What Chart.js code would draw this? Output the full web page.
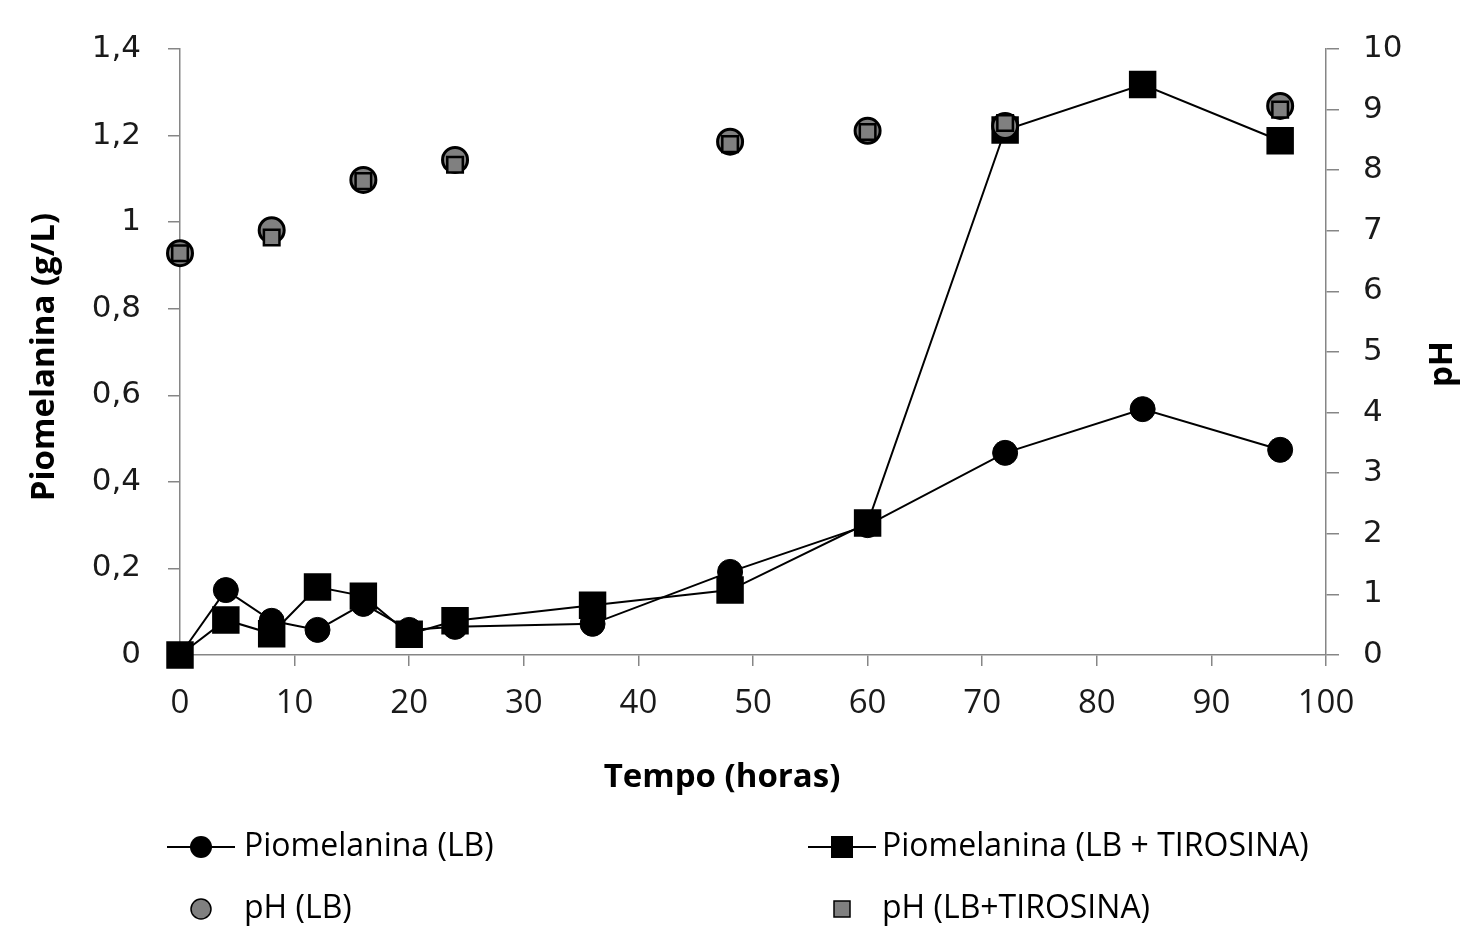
<!DOCTYPE html>
<html>
<head>
<title>Piomelanina e pH</title>
<script src="https://cdn.jsdelivr.net/npm/chart.js"></script>
<style>
  body { margin: 0; background: #fff; }
  #wrap { width: 1462px; height: 926px; }
</style>
</head>
<body>
<div id="wrap"><canvas id="chart"></canvas></div>
<script>
// Data
const tempoPio = [0, 4, 8, 12, 16, 20, 24, 36, 48, 60, 72, 84, 96];
const pioLB = [0, 0.150, 0.079, 0.058, 0.118, 0.058, 0.065, 0.072, 0.192, 0.300, 0.467, 0.568, 0.474];
const pioLBTir = [0, 0.081, 0.049, 0.157, 0.136, 0.048, 0.079, 0.115, 0.150, 0.305, 1.213, 1.318, 1.188];

const tempoPH = [0, 8, 16, 24, 48, 60, 72, 96];
const phLB = [6.63, 7.01, 7.84, 8.17, 8.47, 8.65, 8.73, 9.06];
const phLBTir = [6.63, 6.89, 7.82, 8.09, 8.43, 8.63, 8.78, 9.00];

const xTickLabels = ['0', '10', '20', '30', '40', '50', '60', '70', '80', '90', '100'];
const yTickLabels = ['0', '0,2', '0,4', '0,6', '0,8', '1', '1,2', '1,4'];
const y2TickLabels = ['0', '1', '2', '3', '4', '5', '6', '7', '8', '9', '10'];

const legendItems = ['Piomelanina (LB)', 'Piomelanina (LB + TIROSINA)', 'pH (LB)', 'pH (LB+TIROSINA)'];

const toXY = (xs, ys) => xs.map((x, i) => ({ x: x, y: ys[i] }));

const axisGrey = '#868686';
const phGrey = '#808080';

// titles and the two-column legend
const extras = {
  id: 'extras',
  afterDraw(chart) {
    const ctx = chart.ctx;
    ctx.save();
    ctx.fillStyle = '#000';
    ctx.textBaseline = 'middle';

    ctx.font = 'bold 33px "Open Sans"';
    ctx.textAlign = 'center';
    ctx.fillText('Tempo (horas)', 722, 778);

    ctx.save();
    ctx.translate(45, 357);
    ctx.rotate(-Math.PI / 2);
    ctx.fillText('Piomelanina (g/L)', 0, 0);
    ctx.restore();

    ctx.save();
    ctx.translate(1443, 364);
    ctx.rotate(-Math.PI / 2);
    ctx.fillText('pH', 0, 0);
    ctx.restore();

    // legend
    ctx.font = '32px "Open Sans"';
    ctx.textAlign = 'left';
    const rows = [847, 909];
    const cols = [[167, 201, 244], [808, 842, 882]];

    ctx.strokeStyle = '#000';
    ctx.lineWidth = 2;
    cols.forEach(c => {
      ctx.beginPath();
      ctx.moveTo(c[0], rows[0]);
      ctx.lineTo(c[0] + 68, rows[0]);
      ctx.stroke();
    });
    ctx.fillStyle = '#000';
    ctx.beginPath();
    ctx.arc(cols[0][1], rows[0], 11, 0, Math.PI * 2);
    ctx.fill();
    ctx.fillRect(cols[1][1] - 11, rows[0] - 11, 22, 22);

    ctx.fillStyle = phGrey;
    ctx.lineWidth = 1.5;
    ctx.beginPath();
    ctx.arc(cols[0][1], rows[1], 10, 0, Math.PI * 2);
    ctx.fill();
    ctx.stroke();
    ctx.fillRect(cols[1][1] - 8, rows[1] - 8, 16, 16);
    ctx.strokeRect(cols[1][1] - 8, rows[1] - 8, 16, 16);

    ctx.fillStyle = '#000';
    ctx.fillText(legendItems[0], cols[0][2], rows[0]);
    ctx.fillText(legendItems[1], cols[1][2], rows[0]);
    ctx.fillText(legendItems[2], cols[0][2], rows[1]);
    ctx.fillText(legendItems[3], cols[1][2], rows[1]);
    ctx.restore();
  }
};

new Chart(document.getElementById('chart'), {
  type: 'scatter',
  data: {
    datasets: [
      {
        label: legendItems[3],
        data: toXY(tempoPH, phLBTir),
        yAxisID: 'y2',
        showLine: false,
        pointStyle: 'rect',
        pointRadius: 11,
        pointBackgroundColor: phGrey,
        pointBorderColor: '#000',
        pointBorderWidth: 2.5,
        order: 0
      },
      {
        label: legendItems[2],
        data: toXY(tempoPH, phLB),
        yAxisID: 'y2',
        showLine: false,
        pointStyle: 'circle',
        pointRadius: 12.5,
        pointBackgroundColor: phGrey,
        pointBorderColor: '#000',
        pointBorderWidth: 3,
        order: 1
      },
      {
        label: legendItems[1],
        data: toXY(tempoPio, pioLBTir),
        yAxisID: 'y',
        showLine: true,
        borderColor: '#000',
        borderWidth: 2,
        pointStyle: 'rect',
        pointRadius: 18,
        pointBackgroundColor: '#000',
        pointBorderColor: '#000',
        pointBorderWidth: 2,
        order: 2
      },
      {
        label: legendItems[0],
        data: toXY(tempoPio, pioLB),
        yAxisID: 'y',
        showLine: true,
        borderColor: '#000',
        borderWidth: 2,
        pointStyle: 'circle',
        pointRadius: 12.5,
        pointBackgroundColor: '#000',
        pointBorderColor: '#000',
        pointBorderWidth: 1,
        order: 3
      }
    ]
  },
  options: {
    responsive: true,
    maintainAspectRatio: false,
    animation: false,
    clip: false,
    layout: { padding: { top: 49, left: 0, right: 0, bottom: 0 } },
    plugins: {
      legend: { display: false },
      tooltip: { enabled: false }
    },
    scales: {
      x: {
        type: 'linear',
        min: 0,
        max: 100,
        ticks: {
          stepSize: 10,
          color: '#1a1a1a',
          padding: 18,
          font: { family: '"Open Sans"', size: 33 },
          callback: (v, i) => xTickLabels[i]
        },
        grid: { drawOnChartArea: false, color: axisGrey, tickLength: 11, lineWidth: 1.5 },
        border: { color: axisGrey, width: 1.5 },
        afterFit: s => { s.height = 926 - 655; }
      },
      y: {
        position: 'left',
        min: 0,
        max: 1.4,
        ticks: {
          stepSize: 0.2,
          color: '#1a1a1a',
          padding: 27,
          font: { family: '"DejaVu Sans"', size: 31 },
          callback: (v, i) => yTickLabels[i]
        },
        grid: { drawOnChartArea: false, color: axisGrey, tickLength: 12, lineWidth: 1.5 },
        border: { color: axisGrey, width: 1.5 },
        afterFit: s => { s.width = 180; }
      },
      y2: {
        position: 'right',
        min: 0,
        max: 10,
        ticks: {
          stepSize: 1,
          color: '#1a1a1a',
          padding: 24,
          font: { family: '"DejaVu Sans"', size: 31 },
          callback: (v, i) => y2TickLabels[i]
        },
        grid: { drawOnChartArea: false, color: axisGrey, tickLength: 13, lineWidth: 1.5 },
        border: { color: axisGrey, width: 1.5 },
        afterFit: s => { s.width = 1462 - 1326; }
      }
    }
  },
  plugins: [extras]
});
</script>
</body>
</html>
